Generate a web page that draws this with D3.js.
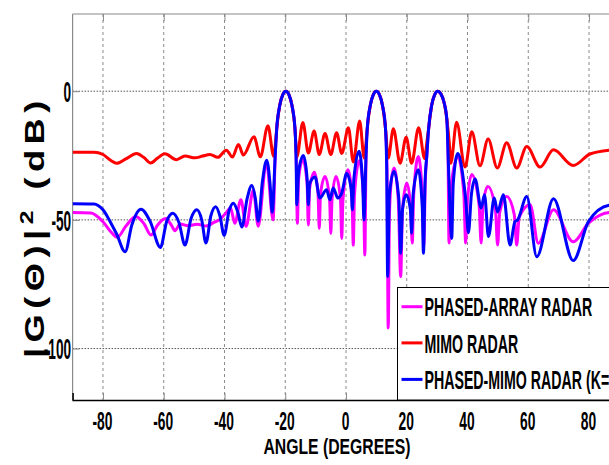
<!DOCTYPE html>
<html>
<head>
<meta charset="utf-8">
<script src="https://cdn.jsdelivr.net/npm/d3@7"></script>
<style>
  html, body { margin: 0; padding: 0; background: #fff; overflow: hidden; }
  text { font-family: "Liberation Sans", Arial, sans-serif; font-weight: bold; }
</style>
</head>
<body>
<svg id="chart" width="609" height="465"></svg>
<script>
// Transmit beampatterns, [angle in degrees, level in dB]
const phasedPattern = [
  [-90,-47.1],[-84,-47.3],[-80,-50.7],[-77.5,-54.5],[-75.3,-56.8],[-72.5,-52.5],[-69.2,-48.7],
  [-66.5,-51.5],[-64.2,-55.9],[-62,-52],[-59.4,-49.5],[-57.5,-52],[-56.3,-54.2],[-54.6,-51.6],
  [-52,-52.3],[-49,-51.7],[-46,-52.4],[-43.5,-51],[-41.5,-49.8],[-39.5,-47.3],[-38,-45.4],
  [-36.6,-51.3],[-34.6,-42.2],[-32.9,-52.5],[-30.5,-38.5],[-28.9,-52.5],[-26.2,-27.5],[-24,-50],
  [-23.3,-25],[-22.8,-14.5],[-21.8,-5.5],[-20.8,-1.3],[-19.8,0],[-18.8,-1.3],[-17.8,-5.5],
  [-16.8,-14.5],[-16.4,-25],[-16,-51.3],[-15.6,-34],[-14.2,-26.6],[-12.8,-36],[-12.4,-52],
  [-12,-38],[-10.4,-31.5],[-9.2,-40],[-8.8,-53.3],[-8.4,-40],[-6.9,-33.1],[-5.4,-42],[-5,-55.2],
  [-4.6,-42],[-3.3,-33.1],[-1.8,-42],[-1.4,-57.2],[-1,-42],[0.6,-30.5],[2,-42],[2.4,-59.8],
  [2.8,-40],[4.4,-27],[5.8,-42],[6.2,-63.7],[6.6,-25],[7,-14.5],[8,-5.5],[9,-1.3],[10,0],
  [11,-1.3],[12,-5.5],[13,-14.5],[13.5,-30],[13.9,-92],[14.3,-48],[14.9,-35],[15.8,-29.8],
  [17.2,-42],[18,-72],[18.6,-46],[20,-35.7],[21.3,-45],[21.8,-59],[22.3,-40],[23.8,-25.4],
  [25.1,-40],[25.6,-60],[26.1,-35],[26.6,-25],[27.2,-14.5],[28.2,-5.5],[29.2,-1.3],[30.2,0],
  [31.2,-1],[32.2,-4],[33.2,-11],[33.6,-25],[33.9,-59],[34.5,-38],[36.8,-25.4],[38.8,-40],
  [39.4,-59],[40,-42],[41.4,-32.4],[43.8,-44],[44.5,-59],[45.1,-44],[46.7,-37],[49.2,-46],
  [49.9,-59.8],[50.6,-47],[52.9,-40.9],[55.4,-48],[56.2,-59.8],[57,-49],[60.6,-44.1],
  [63.3,-59.1],[68.3,-46.1],[74.8,-58.5],[79.8,-51.3],[86.6,-47.1],[90,-46.9]
];

const mimoPattern = [
  [-90,-23.7],[-83,-23.7],[-80,-24.6],[-77.5,-26.8],[-75.5,-28],[-72.5,-26.3],[-68.9,-24.2],
  [-66.5,-25.8],[-64.3,-27.9],[-62,-26],[-59.6,-24.3],[-55.8,-26.6],[-53,-25.2],[-49.7,-25.9],
  [-47.2,-25.2],[-44.8,-24.6],[-42.2,-25.7],[-39.4,-22.9],[-37.4,-25.6],[-35.4,-20.7],
  [-33.8,-24.8],[-30.3,-17.7],[-28.2,-25.5],[-25.7,-13.4],[-23.8,-25.3],[-23.2,-20],
  [-22.8,-14.5],[-21.8,-5.5],[-20.8,-1.3],[-19.8,0],[-18.8,-1.3],[-17.8,-5.5],[-16.8,-14.5],
  [-16.2,-25.5],[-14.2,-12.2],[-12.4,-24],[-10.5,-15.5],[-8.8,-24.6],[-6.9,-16.4],[-5,-24.6],
  [-3.1,-16.1],[-1.4,-24.2],[0.8,-14.2],[2.4,-27.5],[4.5,-11.6],[6,-26],[6.6,-20],[7,-14.5],
  [8,-5.5],[9,-1.3],[10,0],[11,-1.3],[12,-5.5],[13,-14.5],[13.9,-26],[15.6,-14.6],[17.8,-28],
  [19.8,-17.9],[21.6,-28],[23.9,-14.2],[25.9,-26.2],[26.6,-20],[27.2,-14.5],[28.2,-5.5],
  [29.2,-1.3],[30.2,0],[31.2,-1],[32.2,-4],[33.2,-11],[34,-20],[34.5,-28],[36.4,-12.1],
  [39.2,-29.5],[41.4,-15.8],[44.1,-29],[46.8,-18.6],[49.8,-29.8],[52.9,-20],[56.2,-29.8],
  [59.5,-21.5],[63.9,-29.5],[68.3,-22.8],[74.8,-28.9],[80.3,-24.4],[86.6,-22.9],[90,-22.7]
];

const phasedMimoPattern = [
  [-90,-43.7],[-83,-43.8],[-80,-46.1],[-77.5,-51],[-75.5,-55.5],[-72.7,-62.4],[-70.5,-52],
  [-67.5,-45.9],[-64.5,-50.5],[-61.1,-60.7],[-59,-50.5],[-57,-47.4],[-55,-51],[-53,-59.8],
  [-51,-49.5],[-49.1,-46.1],[-47.5,-50],[-46.1,-59],[-44.5,-48.5],[-42.9,-44.9],[-41.5,-48.5],
  [-40.1,-56],[-38.5,-46.5],[-37.1,-43.5],[-35.6,-47],[-34.3,-52.8],[-32.5,-41.5],[-31,-36.6],
  [-29.8,-42],[-28.9,-50.5],[-27.5,-35],[-26.1,-26.8],[-25,-36],[-24.3,-47],[-23.3,-25],
  [-22.8,-14.5],[-21.8,-5.5],[-20.8,-1.3],[-19.8,0],[-18.8,-1.3],[-17.8,-5.5],[-16.8,-14.5],
  [-16.4,-28],[-16.2,-44.1],[-15.6,-31],[-14,-25],[-12.8,-34],[-12.4,-44.1],[-12,-36],
  [-10.2,-33.3],[-8.6,-41.5],[-6.4,-38.3],[-5.3,-42.2],[-4.2,-37.6],[-2.7,-41.5],[-1.4,-39.6],
  [0.2,-32],[1.7,-38],[2.1,-46.1],[2.6,-34],[4.3,-23.3],[5.5,-36],[5.9,-50],[6.6,-25],[7,-14.5],
  [8,-5.5],[9,-1.3],[10,0],[11,-1.3],[12,-5.5],[13,-14.5],[13.4,-30],[13.7,-72],[14.3,-40],
  [15.8,-31.1],[17.4,-42],[18,-63],[18.6,-46],[19.8,-40.2],[21.2,-46],[21.6,-55.2],[22.1,-40],
  [23.8,-30.5],[25.1,-45],[25.5,-63],[26,-36],[26.6,-25],[27.2,-14.5],[28.2,-5.5],[29.2,-1.3],
  [30.2,0],[31.2,-1],[32.2,-4],[33.2,-11],[33.7,-27.9],[34.8,-57.2],[35.3,-36],[36.8,-24.2],
  [38.5,-33],[39.4,-42],[40.3,-55],[41.3,-40],[42.5,-34.1],[44.5,-45.4],[45.6,-40.2],
  [46.9,-56.5],[48.8,-41.5],[49.9,-46.9],[51.8,-40.2],[54,-59.8],[55.6,-50.7],[56.5,-50],
  [59.5,-40.9],[62.8,-64.3],[68.3,-41.8],[74.8,-65.8],[79.8,-50.7],[86.6,-44.3],[90,-44]
];

const seriesNames = ["PHASED-ARRAY RADAR", "MIMO RADAR", "PHASED-MIMO RADAR (K=5)"];
const seriesColors = ["#ff00ff", "#ff0000", "#0000ff"];
const xTicks = [-80, -60, -40, -20, 0, 20, 40, 60, 80];
const yTicks = [0, -50, -100];
const xLabel = "ANGLE (DEGREES)";

// plot frame (the right part of the axes runs past the page edge)
const plotLeft = 72.6, plotRight = 619.4, plotTop = 14, plotBottom = 400;

const svg = d3.select("#chart");
svg.append("rect").attr("width", 609).attr("height", 465).attr("fill", "#fff");

const x = d3.scaleLinear().domain([-90, 90]).range([plotLeft, plotRight]);
const y = d3.scaleLinear().domain([-120, 30]).range([plotBottom, plotTop]);

// grid
const grid = svg.append("g");
grid.selectAll("line.vg").data(xTicks).join("line")
  .attr("x1", d => x(d)).attr("x2", d => x(d))
  .attr("y1", plotTop).attr("y2", plotBottom)
  .attr("stroke", "#8a8a8a").attr("stroke-width", 1)
  .attr("stroke-dasharray", "3,3");
grid.selectAll("line.hg").data(yTicks).join("line")
  .attr("x1", plotLeft).attr("x2", plotRight)
  .attr("y1", d => y(d)).attr("y2", d => y(d))
  .attr("stroke", "#555").attr("stroke-width", 1)
  .attr("stroke-dasharray", "1.5,1.5");

// frame
svg.append("line").attr("x1", plotLeft).attr("x2", plotLeft).attr("y1", plotTop).attr("y2", plotBottom)
  .attr("stroke", "#8a8a8a").attr("stroke-width", 1.2);
svg.append("line").attr("x1", plotLeft).attr("x2", plotRight).attr("y1", plotTop).attr("y2", plotTop)
  .attr("stroke", "#8a8a8a").attr("stroke-width", 1.2);

// axes with inward ticks
const xAxis = svg.append("g").attr("transform", `translate(0,${plotBottom})`)
  .call(d3.axisBottom(x).tickValues(xTicks).tickSize(-7).tickFormat(d3.format("d")));
xAxis.select(".domain").attr("stroke", "#000").attr("stroke-width", 1.5);
xAxis.selectAll(".tick line").attr("stroke", "#8a8a8a");
xAxis.selectAll(".tick text")
  .attr("y", 0).attr("dy", null)
  .attr("font-size", 24).attr("fill", "#000")
  .attr("font-family", "Liberation Sans, Arial, sans-serif").attr("font-weight", "bold")
  .attr("transform", "translate(-1,29.5) scale(0.575,1.04)")
  .text(d => d < 0 ? "-" + Math.abs(d) : String(d));

const xTop = svg.append("g").attr("transform", `translate(0,${plotTop})`)
  .call(d3.axisTop(x).tickValues(xTicks).tickSize(-7).tickFormat(""));
xTop.select(".domain").remove();
xTop.selectAll(".tick line").attr("stroke", "#8a8a8a");

const yAxis = svg.append("g").attr("transform", `translate(${plotLeft},0)`)
  .call(d3.axisLeft(y).tickValues(yTicks).tickSize(-7));
yAxis.select(".domain").remove();
yAxis.selectAll(".tick line").attr("stroke", "#8a8a8a");
yAxis.selectAll(".tick text")
  .attr("x", 0).attr("dy", "0.36em")
  .attr("font-size", 29).attr("fill", "#000")
  .attr("font-family", "Liberation Sans, Arial, sans-serif").attr("font-weight", "bold")
  .attr("text-anchor", "end")
  .attr("transform", "translate(-1.5,0) scale(0.47,1)")
  .text(d => d < 0 ? "-" + Math.abs(d) : String(d));

// traces
svg.append("clipPath").attr("id", "plotClip")
  .append("rect").attr("x", plotLeft).attr("y", plotTop)
  .attr("width", plotRight - plotLeft).attr("height", plotBottom - plotTop);

const line = d3.line().x(d => x(d[0])).y(d => y(d[1])).curve(d3.curveMonotoneX);
const traces = svg.append("g").attr("clip-path", "url(#plotClip)");
[phasedPattern, mimoPattern, phasedMimoPattern].forEach((s, i) => {
  traces.append("path").datum(s)
    .attr("d", line)
    .attr("fill", "none")
    .attr("stroke", seriesColors[i])
    .attr("stroke-width", 3)
    .attr("stroke-linejoin", "round");
});

// legend
const legend = svg.append("g");
legend.append("rect").attr("x", 397.5).attr("y", 287.5)
  .attr("width", 260).attr("height", 112.5)
  .attr("fill", "#fff").attr("stroke", "#000").attr("stroke-width", 1);
const rowY = [306.7, 342.9, 379.4];
seriesNames.forEach((name, i) => {
  legend.append("line")
    .attr("x1", 401.5).attr("x2", 422.5)
    .attr("y1", rowY[i]).attr("y2", rowY[i])
    .attr("stroke", seriesColors[i]).attr("stroke-width", 3);
  legend.append("text")
    .attr("transform", `translate(424.5,${rowY[i] + 9.6}) scale(0.556,1)`)
    .attr("font-size", 25.5).attr("fill", "#000")
    .text(name);
});

// axis titles
svg.append("text")
  .attr("transform", "translate(263.5,453.5) scale(1,1.12)")
  .attr("font-size", 20).attr("fill", "#000")
  .attr("textLength", 147).attr("lengthAdjust", "spacingAndGlyphs")
  .text(xLabel);

const yTitle = svg.append("text")
  .attr("transform", "translate(44,358) rotate(-90) scale(1.3,1)")
  .attr("font-size", 28).attr("fill", "#000")
  .attr("textLength", 198).attr("lengthAdjust", "spacing");
yTitle.append("tspan").text("|G(Θ)|");
yTitle.append("tspan").attr("dy", -11).attr("font-size", 19).text("2");
yTitle.append("tspan").attr("dy", 11).text(" (dB)");
</script>
</body>
</html>
